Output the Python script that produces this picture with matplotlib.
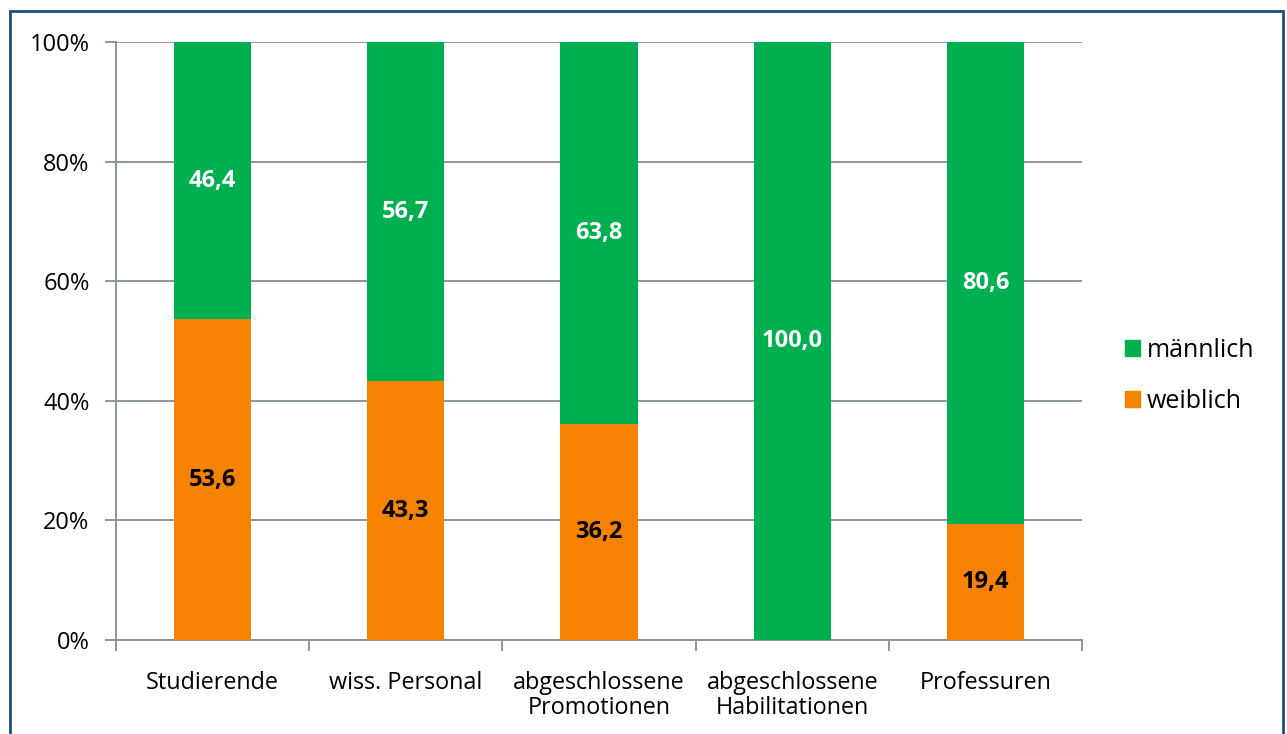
import numpy as np
import matplotlib.pyplot as plt
from matplotlib.patches import Rectangle, Patch

# Anteile nach Geschlecht in Prozent
categories = ['Studierende', 'wiss. Personal', 'abgeschlossene\nPromotionen',
              'abgeschlossene\nHabilitationen', 'Professuren']
weiblich = [53.6, 43.3, 36.2, 0.0, 19.4]
maennlich = [46.4, 56.7, 63.8, 100.0, 80.6]

green = '#00B050'
orange = '#F58200'
grid_col = '#868E9C'

plt.rcParams['font.family'] = ['Open Sans', 'DejaVu Sans']

fig = plt.figure(figsize=(12.87, 7.34), dpi=100)
ax = fig.add_axes([116 / 1287, 1 - 640 / 734, (1082 - 116) / 1287, (640 - 42) / 734])

x = np.arange(len(categories))
w = 0.4
ax.bar(x, weiblich, w, color=orange, zorder=3)
ax.bar(x, maennlich, w, bottom=weiblich, color=green, zorder=3)

# Werte in die Segmente schreiben
for i in range(len(categories)):
    if weiblich[i] > 0:
        ax.text(x[i], weiblich[i] / 2, f"{weiblich[i]:.1f}".replace('.', ','),
                ha='center', va='center', fontsize=17, fontweight='bold', color='black', zorder=4)
    if maennlich[i] > 0:
        ax.text(x[i], weiblich[i] + maennlich[i] / 2, f"{maennlich[i]:.1f}".replace('.', ','),
                ha='center', va='center', fontsize=17, fontweight='bold', color='white', zorder=4)

ax.set_xlim(-0.5, len(categories) - 0.5)
ax.set_ylim(0, 100)
ax.set_yticks(np.arange(0, 101, 20))
ax.set_yticklabels([f"{v}%" for v in range(0, 101, 20)], fontsize=17)
ax.yaxis.grid(True, color=grid_col, linewidth=1.3, zorder=0)

ax.set_xticks(x)
ax.set_xticklabels(categories, fontsize=16.8, linespacing=1.1)
ax.set_xticks(np.arange(-0.5, len(categories)), minor=True)
ax.tick_params(axis='x', which='major', length=0, pad=22)
ax.tick_params(axis='x', which='minor', length=8, width=1.3, color=grid_col)
ax.tick_params(axis='y', length=8, width=1.3, color=grid_col, pad=11)

for s in ['top', 'right']:
    ax.spines[s].set_visible(False)
for s in ['left', 'bottom']:
    ax.spines[s].set_color(grid_col)
    ax.spines[s].set_linewidth(1.3)

handles = [Patch(color=green, label='männlich'), Patch(color=orange, label='weiblich')]
fig.legend(handles=handles, loc='center left', bbox_to_anchor=(1102 / 1287, 1 - 376 / 734),
           frameon=False, fontsize=18, handlelength=0.6, handleheight=0.6,
           handletextpad=0.3, labelspacing=1.05)

# Rahmen um die Grafik
fig.patches.append(Rectangle((10 / 1287, -0.01), (1283 - 10) / 1287, 1.01 - 11 / 734,
                             transform=fig.transFigure, fill=False,
                             edgecolor='#1F4E79', linewidth=2))

fig.savefig('out.png', dpi=100)
